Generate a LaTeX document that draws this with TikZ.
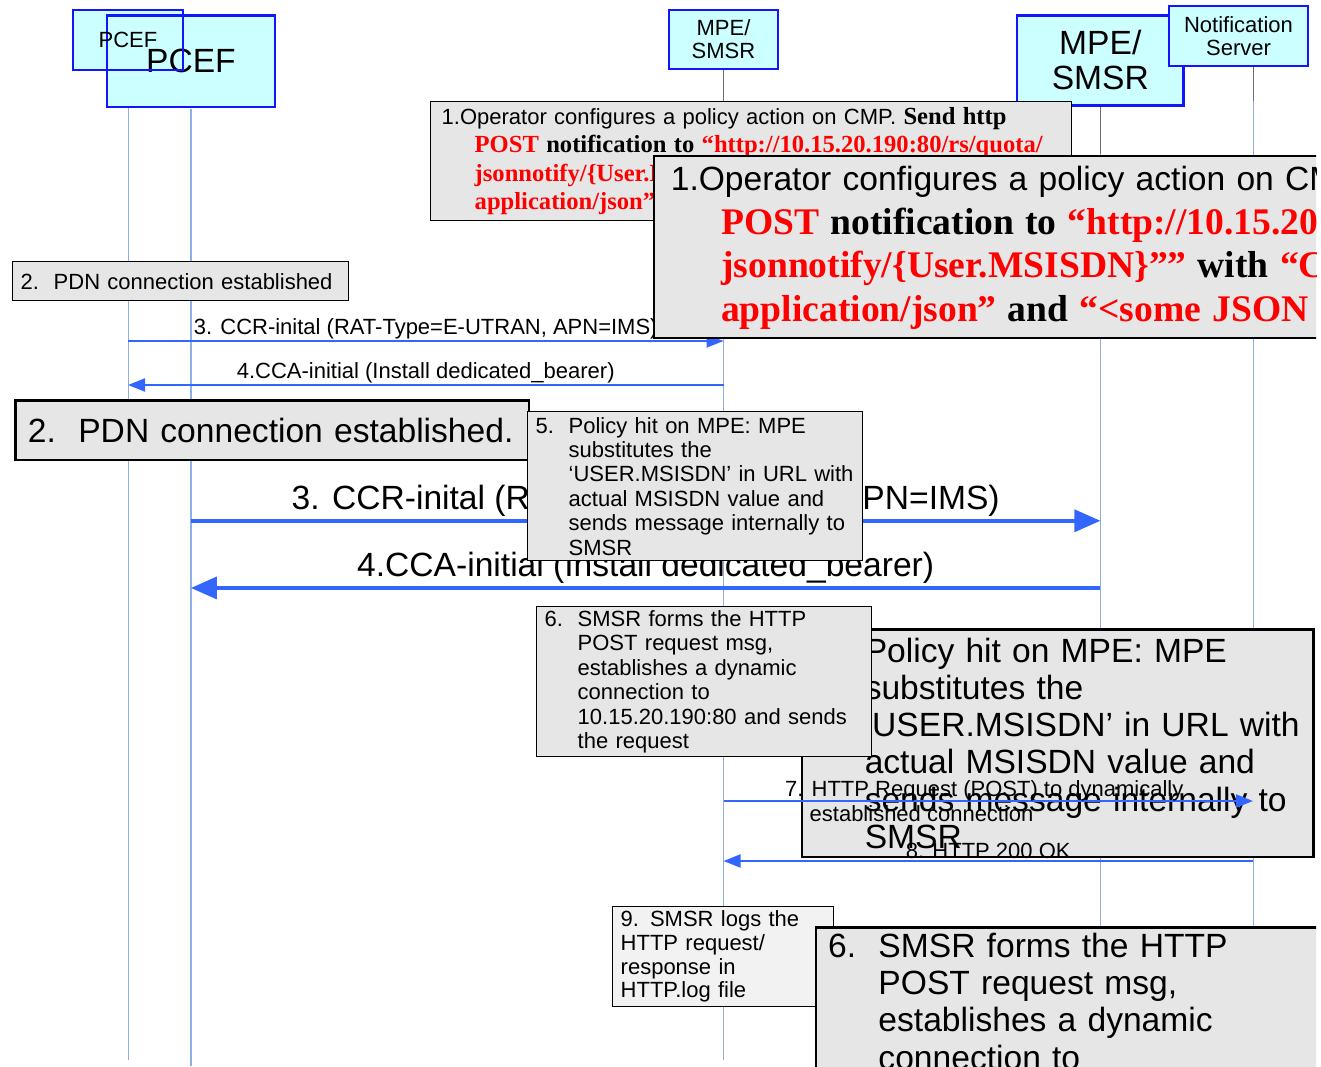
\documentclass[tikz,border=0pt]{standalone}
\usepackage{fontspec}
\setmainfont{Liberation Serif}
\setsansfont{Liberation Sans}
\usetikzlibrary{arrows.meta,backgrounds}

\definecolor{headfill}{RGB}{204,255,255}
\definecolor{headline}{RGB}{20,20,255}
\definecolor{notefill}{RGB}{230,230,230}
\definecolor{logfill}{RGB}{242,242,242}
\definecolor{msgblue}{RGB}{51,102,255}
\definecolor{lifeblue}{RGB}{140,175,228}
\definecolor{lifegray}{RGB}{110,110,110}
\definecolor{urlred}{RGB}{255,0,0}

% line sizes of the small copy; \bigsizes switches to the large copy
\newcommand{\boxlw}{1.4pt}
\newcommand{\headlw}{1.2pt}
\newcommand{\msglw}{2pt}
\newcommand{\lifelw}{1pt}
\newcommand{\tiplen}{17pt}
\newcommand{\tipwid}{13pt}
\newcommand{\bigsizes}{%
  \renewcommand{\boxlw}{2.5pt}%
  \renewcommand{\headlw}{2.6pt}%
  \renewcommand{\msglw}{3.6pt}%
  \renewcommand{\lifelw}{1.2pt}%
  \renewcommand{\tiplen}{26pt}%
  \renewcommand{\tipwid}{22pt}}

\newcommand{\sfs}{\fontsize{22}{24.4}\selectfont\sffamily}
\newcommand{\redtxt}[1]{{\color{urlred}\rmfamily\bfseries\fontsize{24.6}{28.5}\selectfont #1}}
\newcommand{\blktxt}[1]{{\rmfamily\bfseries\fontsize{24.6}{28.5}\selectfont #1}}
\newcommand{\numb}[1]{\makebox[33pt][l]{#1}}
\newcommand{\indnt}{\hspace*{33pt}}

% texts shared by both copies
\newcommand{\txtone}{1.Operator configures a policy action on CMP. \blktxt{Send http}\\
  \indnt\redtxt{POST} \blktxt{notification to} \redtxt{“http://10.15.20.190:80/rs/quota/}\\
  \indnt\redtxt{jsonnotify/\{User.MSISDN\}””} \blktxt{with} \redtxt{“Content-Type:}\\
  \indnt\redtxt{application/json”} \blktxt{and} \redtxt{“<some JSON content>”}}
\newcommand{\txtfive}{\numb{5.}Policy hit on MPE: MPE\\
  \indnt substitutes the\\
  \indnt ‘USER.MSISDN’ in URL with\\
  \indnt actual MSISDN value and\\
  \indnt sends message internally to\\
  \indnt SMSR}
\newcommand{\txtsix}{\numb{6.}SMSR forms the HTTP\\
  \indnt POST request msg,\\
  \indnt establishes a dynamic\\
  \indnt connection to\\
  \indnt 10.15.20.190:80 and sends\\
  \indnt the request}

\begin{document}
\begin{tikzpicture}[x=1pt, y=-1pt,
  head/.style={draw=headline, fill=headfill, line width=\headlw, inner sep=0pt,
    align=center, font=\fontsize{22}{23}\selectfont\sffamily},
  note/.style={draw=black, fill=notefill, line width=\boxlw, anchor=north west,
    inner xsep=8pt, inner ysep=0pt, align=left, font=\sfs},
  msg/.style={draw=msgblue, line width=\msglw, -{Triangle[length=\tiplen, width=\tipwid]}},
  lbl/.style={font=\sfs, inner sep=1pt},
  life/.style={draw=lifeblue, line width=\lifelw},
  lifetop/.style={draw=lifegray, line width=\lifelw},
  big layer/.style={shift={(-4.5,0)}, scale=1.527, every node/.append style={transform shape}}]

\useasboundingbox (0,0) rectangle (1321,1066);
\clip (0,0) rectangle (1316,1066);

% heads
\fill[headfill] (73,10) rectangle (183,70);
\begin{scope}[big layer]\bigsizes
  \node[head, minimum width=110, minimum height=60] (bpcef) at (128,40) {PCEF};
  \node[head, minimum width=109, minimum height=59] (bmpe) at (723.5,39.5) {MPE/\\SMSR};
\end{scope}
\node[head, fill=none, minimum width=110, minimum height=60] (spcef) at (128,40) {PCEF};
\node[head, minimum width=109, minimum height=59] (smpe) at (723.5,39.5) {MPE/\\SMSR};
\node[head, minimum width=139, minimum height=60] (sns) at (1238.5,36) {Notification\\Server};
\coordinate (snsfoot) at (1253,66);

% lifelines
\begin{pgfonlayer}{background}
  \coordinate (stop) at (0,101);
  \coordinate (send) at (0,1060);
  \draw[life] (spcef.south) -- (spcef.south |- send);
  \draw[lifetop] (smpe.south) -- (smpe.south |- stop);
  \draw[life] (smpe.south |- stop) -- (smpe.south |- send);
  \draw[lifetop] (snsfoot) -- (snsfoot |- stop);
  \draw[life] (snsfoot |- stop) -- (snsfoot |- send);
  \begin{scope}[big layer]\bigsizes
    \coordinate (btop) at (0,101);
    \coordinate (bend) at (0,698);
    \draw[life] (bpcef.south) -- (bpcef.south |- bend);
    \draw[lifetop] (bmpe.south) -- (bmpe.south |- btop);
    \draw[life] (bmpe.south |- btop) -- (bmpe.south |- bend);
  \end{scope}
\end{pgfonlayer}

% small copy, first part
\coordinate (sy3) at (0,341);
\coordinate (sy4) at (0,385);
\node[note, inner xsep=11pt, text width=619, minimum height=119,
  font=\fontsize{22}{28.5}\selectfont\sffamily] (sone) at (430,101) {\txtone};
\node[note, text width=320, minimum height=39] (stwo) at (12,261) {\numb{2.}PDN connection established};
\draw[msg] (spcef |- sy3) -- (smpe |- sy3)
  node[lbl, midway, above] (sthree) {3. CCR-inital (RAT-Type=E-UTRAN, APN=IMS)};
\draw[msg] (smpe |- sy4) -- (spcef |- sy4)
  node[lbl, midway, above] (sfour) {4.CCA-initial (Install dedicated\_bearer)};
\node[note, fill=logfill, text width=205, minimum height=100,
  font=\fontsize{22}{23.7}\selectfont\sffamily] (snine) at (612,906)
  {9. SMSR logs the\\HTTP request/\\response in\\HTTP.log file};

% large copy
\begin{scope}[big layer]\bigsizes
  \coordinate (by3) at (0,341);
  \coordinate (by4) at (0,385);
  \node[note, inner xsep=11pt, text width=619, minimum height=119,
    font=\fontsize{22}{28.5}\selectfont\sffamily] (bone) at (430,101) {\txtone};
  \node[note, text width=320, minimum height=39] (btwo) at (12,261) {\numb{2.}PDN connection established.};
  \draw[msg] (bpcef |- by3) -- (bmpe |- by3)
    node[lbl, midway, above] (bthree) {3. CCR-inital (RAT-Type=E-UTRAN, APN=IMS)};
  \draw[msg] (bmpe |- by4) -- (bpcef |- by4)
    node[lbl, midway, above] (bfour) {4.CCA-initial (Install dedicated\_bearer)};
  \node[note, text width=319, minimum height=149] (bfive) at (527,411) {\txtfive};
  \node[note, text width=319, minimum height=150] (bsix) at (536,606) {\txtsix};
\end{scope}

% small copy, second part
\coordinate (sy7) at (0,801);
\coordinate (sy8) at (0,861);
\node[note, text width=319, minimum height=149] (sfive) at (527,411) {\txtfive};
\node[note, text width=319, minimum height=150] (ssix) at (536,606) {\txtsix};
\draw[msg] (smpe |- sy7) -- (snsfoot |- sy7)
  node[lbl, midway, xshift=-4pt, align=left] (sseven)
  {7. HTTP Request (POST) to dynamically\\\hspace*{24.5pt}established connection};
\draw[msg] (snsfoot |- sy8) -- (smpe |- sy8)
  node[lbl, midway, above] (seight) {8. HTTP 200 OK};

\end{tikzpicture}
\end{document}
